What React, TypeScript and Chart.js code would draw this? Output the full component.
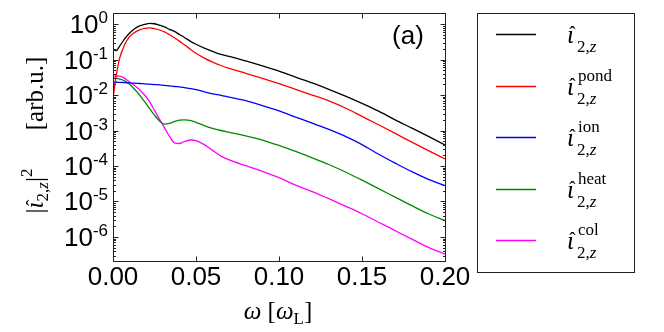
import React, { useEffect, useRef } from "react";
import { Chart, registerables } from "chart.js";

Chart.register(...registerables);

// ---------- data ----------
const omega = [0, 0.002, 0.004, 0.007, 0.01, 0.013, 0.016, 0.019, 0.022, 0.025, 0.028, 0.031, 0.034, 0.037, 0.04, 0.043, 0.047, 0.05, 0.055, 0.06, 0.065, 0.07, 0.08, 0.09, 0.1, 0.11, 0.12, 0.13, 0.14, 0.15, 0.16, 0.17, 0.18, 0.19, 0.2];

const iTotal = [0.19, 0.18, 0.24, 0.38, 0.56, 0.74, 0.89, 0.98, 1.05, 1.02, 0.93, 0.83, 0.71, 0.62, 0.51, 0.42, 0.32, 0.27, 0.21, 0.17, 0.14, 0.123, 0.091, 0.066, 0.047, 0.032, 0.0219, 0.0145, 0.0093, 0.0058, 0.0035, 0.002, 0.00117, 0.00068, 0.00039];
const iPond = [0.0079, 0.037, 0.11, 0.26, 0.44, 0.58, 0.69, 0.76, 0.78, 0.74, 0.68, 0.6, 0.5, 0.41, 0.33, 0.26, 0.19, 0.15, 0.11, 0.085, 0.068, 0.056, 0.041, 0.0295, 0.0209, 0.0145, 0.01, 0.0068, 0.0043, 0.0025, 0.00145, 0.00083, 0.00047, 0.00027, 0.000158];
const iIon = [0.0229, 0.0229, 0.0226, 0.0224, 0.0219, 0.0216, 0.0211, 0.0207, 0.0202, 0.0197, 0.0193, 0.0186, 0.0182, 0.0174, 0.017, 0.0162, 0.0151, 0.0141, 0.0123, 0.0107, 0.0098, 0.0087, 0.0069, 0.005, 0.00355, 0.0024, 0.00162, 0.00107, 0.00068, 0.0004, 0.000214, 0.00012, 0.000069, 0.000042, 0.000028];
const iHeat = [0.03, 0.0295, 0.0282, 0.0251, 0.02, 0.0145, 0.01, 0.0065, 0.0042, 0.0027, 0.00186, 0.00151, 0.00158, 0.00178, 0.00195, 0.002, 0.0019, 0.0017, 0.00138, 0.00115, 0.001, 0.00089, 0.00071, 0.00054, 0.00038, 0.000257, 0.00017, 0.00011, 0.0000676, 0.0000398, 0.0000229, 0.0000132, 0.0000076, 0.0000045, 0.0000029];
const iCol = [0.034, 0.0347, 0.034, 0.0295, 0.0234, 0.0186, 0.0141, 0.01, 0.0065, 0.0037, 0.0021, 0.0012, 0.00069, 0.00045, 0.00043, 0.00049, 0.00054, 0.00052, 0.0004, 0.000275, 0.00019, 0.000148, 0.000102, 0.000071, 0.0000468, 0.0000288, 0.000019, 0.000012, 0.0000074, 0.0000045, 0.0000026, 0.0000015, 0.00000087, 0.00000051, 0.00000033];

const seriesValues = [iTotal, iPond, iIon, iHeat, iCol];
const seriesSup = ["", "pond", "ion", "heat", "col"];
const seriesColors = ["#000000", "#ff0000", "#0000ff", "#008a00", "#ff00ff"];

const xTicks = [0, 0.05, 0.1, 0.15, 0.2];
const xTickLabels = ["0.00", "0.05", "0.10", "0.15", "0.20"];
const yTicks = [1, 1e-1, 1e-2, 1e-3, 1e-4, 1e-5, 1e-6];
const yTickExponents = ["0", "-1", "-2", "-3", "-4", "-5", "-6"];

const SANS = '"Liberation Sans", Arial, Helvetica, sans-serif';
const SERIF = '"Liberation Serif", "DejaVu Serif", "Times New Roman", serif';

type Run = { t: string; f: string; dy?: number; hat?: boolean };

function runsWidth(ctx: CanvasRenderingContext2D, runs: Run[]) {
  let w = 0;
  for (const r of runs) {
    ctx.font = r.f;
    w += ctx.measureText(r.t).width;
  }
  return w;
}
function drawRuns(ctx: CanvasRenderingContext2D, runs: Run[], x: number, y: number) {
  let cx = x;
  for (const r of runs) {
    ctx.font = r.f;
    const w = ctx.measureText(r.t).width;
    ctx.fillText(r.t, cx, y + (r.dy || 0));
    if (r.hat) {
      ctx.font = `19px ${SERIF}`;
      const hw = ctx.measureText("\u02C6").width;
      ctx.fillText("\u02C6", cx + w / 2 - hw / 2 + 2, y + (r.dy || 0) - 4);
    }
    cx += w;
  }
}

const decorPlugin = {
  id: "decor",
  afterDraw(chart: any) {
    const { ctx, chartArea: a, scales } = chart;
    const xs = scales.x;
    const ys = scales.y;
    const L = Math.round(a.left) + 0.5;
    const R = Math.round(a.right) + 0.5;
    const T = Math.round(a.top) + 0.5;
    const B = Math.round(a.bottom) + 0.5;
    ctx.save();
    ctx.strokeStyle = "#222";
    ctx.lineWidth = 1;
    ctx.strokeRect(L, T, R - L, B - T);

    ctx.beginPath();
    xTicks.forEach((v) => {
      const px = Math.round(xs.getPixelForValue(v)) + 0.5;
      ctx.moveTo(px, B);
      ctx.lineTo(px, B - 5);
      ctx.moveTo(px, T);
      ctx.lineTo(px, T + 5);
    });
    yTicks.forEach((v) => {
      const py = Math.round(ys.getPixelForValue(v)) + 0.5;
      ctx.moveTo(L, py);
      ctx.lineTo(L + 5, py);
      ctx.moveTo(R, py);
      ctx.lineTo(R - 5, py);
    });
    const ymin = ys.min;
    const ymax = ys.max;
    [1e-7, ...yTicks].forEach((d) => {
      for (let m = 2; m <= 9; m++) {
        const v = d * m;
        if (v < ymin || v > ymax) continue;
        const py = Math.round(ys.getPixelForValue(v)) + 0.5;
        ctx.moveTo(L, py);
        ctx.lineTo(L + 2.5, py);
        ctx.moveTo(R, py);
        ctx.lineTo(R - 2.5, py);
      }
    });
    ctx.stroke();

    ctx.fillStyle = "#000";
    ctx.textBaseline = "alphabetic";
    ctx.font = `26px ${SANS}`;
    ctx.textAlign = "center";
    xTicks.forEach((v, i) => {
      ctx.fillText(xTickLabels[i], xs.getPixelForValue(v), 285);
    });
    ctx.textAlign = "left";
    yTicks.forEach((v, i) => {
      const py = ys.getPixelForValue(v);
      const runs: Run[] = [
        { t: "10", f: `26px ${SANS}` },
        { t: yTickExponents[i], f: `17px ${SANS}`, dy: -10 },
      ];
      const w = runsWidth(ctx, runs);
      drawRuns(ctx, runs, 108 - w, py + 9);
    });

    ctx.font = `26px ${SANS}`;
    ctx.textAlign = "center";
    ctx.textBaseline = "middle";
    ctx.fillText("(a)", 408, 37);

    ctx.textAlign = "left";
    ctx.textBaseline = "alphabetic";
    const xt: Run[] = [
      { t: "\u03C9", f: `italic 25px ${SERIF}` },
      { t: " [", f: `25px ${SERIF}` },
      { t: "\u03C9", f: `italic 25px ${SERIF}` },
      { t: "L", f: `17px ${SERIF}`, dy: 5 },
      { t: "]", f: `25px ${SERIF}` },
    ];
    drawRuns(ctx, xt, 278 - runsWidth(ctx, xt) / 2, 319);

    // y title: two parts, rotated
    const yt1: Run[] = [
      { t: "|", f: `25px ${SERIF}` },
      { t: "\u03B9", f: `italic 25px ${SERIF}`, hat: true },
      { t: "2,", f: `17px ${SERIF}`, dy: 5 },
      { t: "z", f: `italic 17px ${SERIF}`, dy: 5 },
      { t: "|", f: `25px ${SERIF}` },
      { t: "2", f: `17px ${SERIF}`, dy: -11 },
    ];
    const yt2: Run[] = [{ t: "[arb.u.]", f: `25px ${SERIF}` }];
    ctx.save();
    ctx.translate(43, 142);
    ctx.rotate(-Math.PI / 2);
    const w1 = runsWidth(ctx, yt1);
    drawRuns(ctx, yt1, -80 + (62 - w1) / 2, 0);
    const w2 = runsWidth(ctx, yt2);
    drawRuns(ctx, yt2, 12 + (73 - w2) / 2, 0);
    ctx.restore();

    // legend
    ctx.strokeStyle = "#222";
    ctx.lineWidth = 1;
    ctx.strokeRect(477.5, 13.5, 157, 259);
    const rowY = [34, 86, 137, 189, 240];
    seriesColors.forEach((c, i) => {
      const y = rowY[i];
      ctx.strokeStyle = c;
      ctx.lineWidth = 1.3;
      ctx.beginPath();
      ctx.moveTo(496, y + 0.5);
      ctx.lineTo(536, y + 0.5);
      ctx.stroke();
      ctx.fillStyle = "#000";
      drawRuns(ctx, [{ t: "\u03B9", f: `italic 25px ${SERIF}`, hat: true }], 567, y + 9);
      drawRuns(
        ctx,
        [
          { t: "2,", f: `17px ${SERIF}` },
          { t: "z", f: `italic 17px ${SERIF}` },
        ],
        577,
        y + 18
      );
      if (seriesSup[i]) {
        ctx.font = `17px ${SERIF}`;
        ctx.fillText(seriesSup[i], 578, y - 5);
      }
    });
    ctx.restore();
  },
};

export default function App() {
  const ref = useRef<HTMLCanvasElement | null>(null);
  useEffect(() => {
    if (!ref.current) return;
    const chart = new Chart(ref.current, {
      type: "line",
      data: {
        datasets: seriesValues.map((vals, i) => ({
          label: seriesSup[i] || "total",
          data: omega.map((w, j) => ({ x: w, y: vals[j] })),
          borderColor: seriesColors[i],
          borderWidth: 1.3,
          pointRadius: 0,
          fill: false,
          cubicInterpolationMode: "monotone" as const,
        })),
      },
      options: {
        responsive: false,
        animation: false,
        devicePixelRatio: 1,
        layout: { padding: { left: 113, top: 13, right: 219, bottom: 71 } },
        plugins: { legend: { display: false }, tooltip: { enabled: false } },
        scales: {
          x: { type: "linear", min: 0, max: 0.2, display: false },
          y: { type: "logarithmic", min: 2.1e-7, max: 2.05, display: false },
        },
      },
      plugins: [decorPlugin],
    });
    return () => chart.destroy();
  }, []);
  return (
    <div style={{ position: "absolute", left: 0, top: 0, width: 664, height: 332, background: "#fff" }}>
      <canvas ref={ref} width={664} height={332} style={{ width: 664, height: 332, display: "block" }} />
    </div>
  );
}
